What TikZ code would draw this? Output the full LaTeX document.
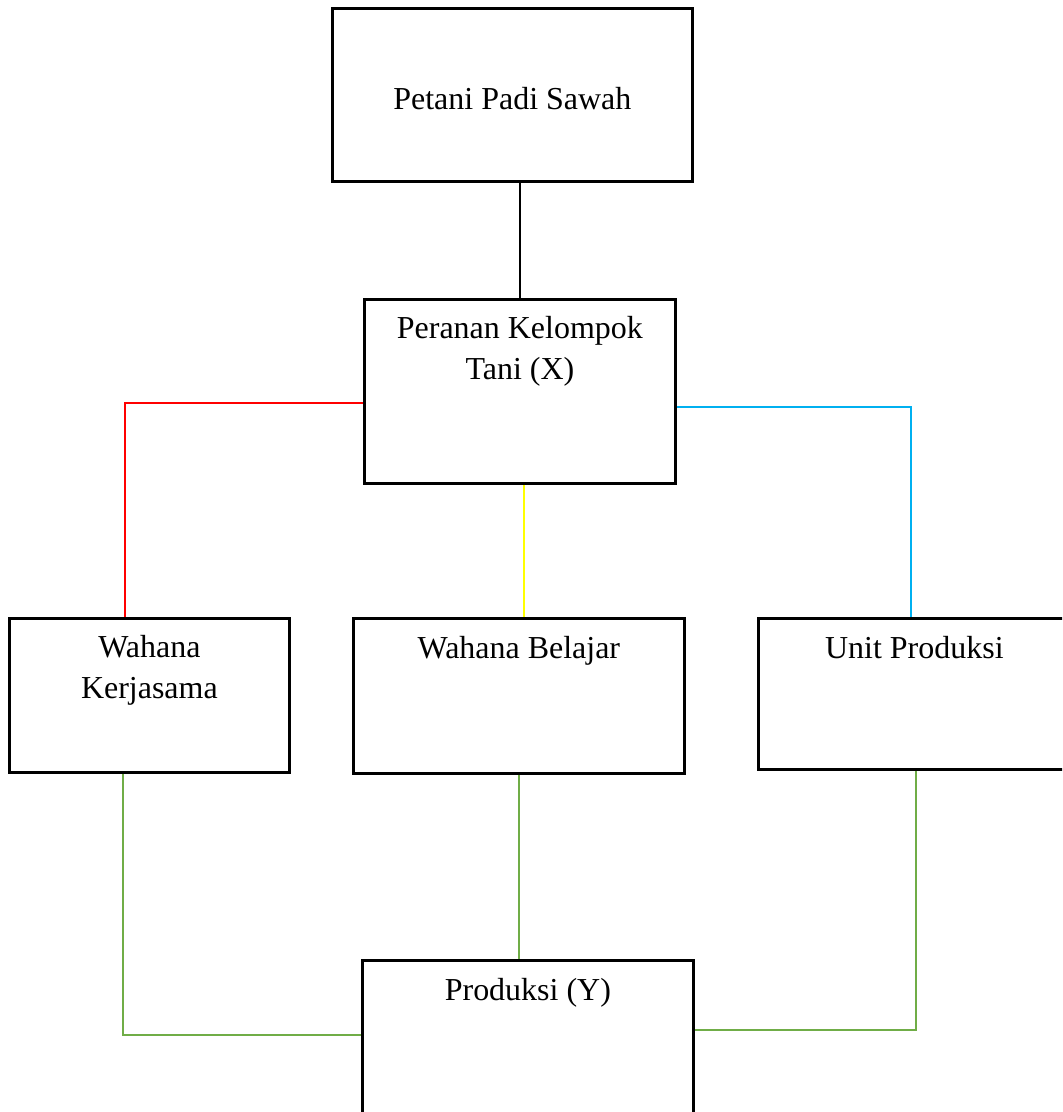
\documentclass[tikz,border=0pt]{standalone}
\usepackage{fontspec}
\setmainfont{Liberation Serif}
\usepackage{xcolor}
\usetikzlibrary{positioning}
\definecolor{LineRed}{RGB}{255,0,0}
\definecolor{LineYellow}{RGB}{255,255,0}
\definecolor{LineBlue}{RGB}{0,176,240}
\definecolor{LineGreen}{RGB}{112,173,71}
\tikzset{
 kotak/.style={draw,line width=1.6pt,inner sep=0pt,anchor=north west,
  font=\fontsize{18.2}{23.3}\selectfont},
 judul/.style={anchor=north,inner sep=0pt,align=center,yshift=-7pt,
  font=\fontsize{18.2}{23.3}\selectfont,execute at begin node=\strut},
 judul dua/.style={judul,yshift=-3pt},
 garis/.style={line width=1.3pt}
}

\begin{document}
\begin{tikzpicture}[x=0.02cm,y=-0.02cm]
\clip (0,0) rectangle (1062,1112);
\node[kotak,minimum width=7.2cm,minimum height=3.46cm,text height=0.58cm] (petani) at (331,7) {Petani Padi Sawah};
\node[kotak,minimum width=6.22cm,minimum height=3.68cm,
 label={[judul dua]north:Peranan Kelompok\\Tani (X)}] (peranan) at (363,298) {};
\node[kotak,minimum width=5.6cm,minimum height=3.08cm,
 label={[judul dua]north:Wahana\\Kerjasama}] (kerjasama) at (8,617) {};
\node[kotak,minimum width=6.62cm,minimum height=3.1cm,
 label={[judul]north:Wahana Belajar}] (belajar) at (352,617) {};
\node[kotak,minimum width=6.24cm,minimum height=3.02cm,
 label={[judul]north:Unit Produksi}] (unit) at (757,617) {};
\node[kotak,minimum width=6.62cm,minimum height=4cm,
 label={[judul]north:Produksi (Y)}] (produksi) at (361,959) {};

\coordinate (sikuM) at (125,403);
\coordinate (sikuB) at (911,407);
\coordinate (sikuH1) at (123,1035);
\coordinate (sikuH2) at (916,1030);

\draw[garis] (petani.south -| peranan.north) -- (peranan.north);
\draw[garis,LineRed] (peranan.west |- sikuM) -- (sikuM) -- (sikuM |- kerjasama.north);
\draw[garis,LineYellow] ([xshift=0.08cm]peranan.south) -- ([xshift=0.08cm]peranan.south |- belajar.north);
\draw[garis,LineBlue] (peranan.east |- sikuB) -- (sikuB) -- (sikuB |- unit.north);
\draw[garis,LineGreen] (kerjasama.south -| sikuH1) -- (sikuH1) -- (sikuH1 -| produksi.west);
\draw[garis,LineGreen] (belajar.south) -- (belajar.south |- produksi.north);
\draw[garis,LineGreen] (unit.south -| sikuH2) -- (sikuH2) -- (sikuH2 -| produksi.east);
\end{tikzpicture}
\end{document}
